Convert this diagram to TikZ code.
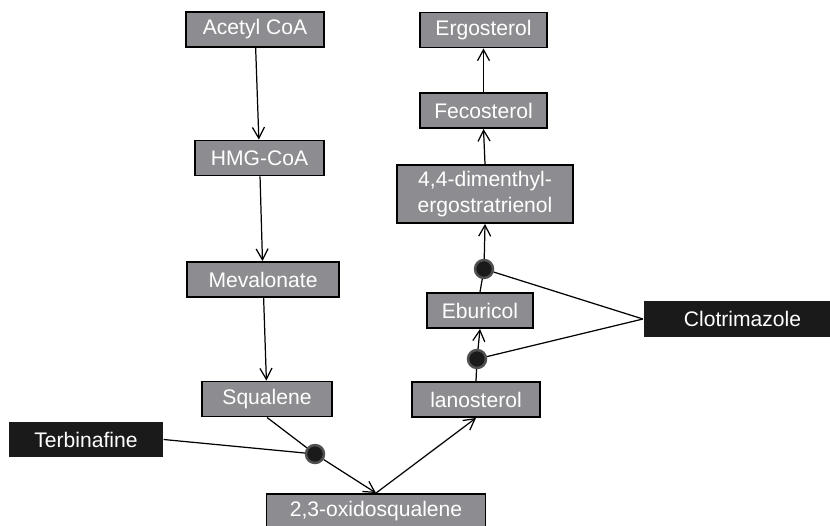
\documentclass[tikz,border=0pt]{standalone}
\usepackage{fontspec}
\setmainfont{Liberation Sans}
\usetikzlibrary{arrows.meta}
\definecolor{boxgray}{RGB}{141,141,145}
\definecolor{drugblack}{RGB}{26,26,26}
\definecolor{dotrim}{RGB}{80,80,80}
\begin{document}
\begin{tikzpicture}[x=0.02cm, y=-0.02cm, line width=0.7pt, >={Straight Barb[length=2.2mm,width=2.4mm]},
  step node/.style={rectangle,draw=black,line width=1.1pt,fill=boxgray,text=white,inner sep=0pt,minimum height=0.7cm},
  drug node/.style={rectangle,fill=drugblack,text=white,inner sep=0pt,minimum height=0.72cm},
  block node/.style={circle,draw=dotrim,line width=1.4pt,fill=drugblack,minimum size=0.36cm,inner sep=0pt}]
\useasboundingbox (0,0) rectangle (830,526);
\begin{scope}[every node/.style={font=\fontsize{12}{14.4}\selectfont}]
\node[step node, minimum width=2.76cm] (aco) at (255,29.5) {Acetyl CoA};
\node[step node, minimum width=2.58cm] (hmg) at (259.5,158) {HMG-CoA};
\node[step node, minimum width=3.04cm] (mev) at (263,279.5) {Mevalonate};
\node[step node, minimum width=2.6cm] (squ) at (267,399) {Squalene};
\node[step node, minimum width=4.38cm] (oxi) at (376,511.5) {2,3-oxidosqualene};
\node[step node, minimum width=2.56cm] (lan) at (476,399.5) {lanosterol};
\node[step node, minimum width=2.12cm] (ebu) at (480,310.5) {Eburicol};
\node[step node, minimum width=3.52cm, minimum height=1.16cm, align=center] (dim) at (485,194) {4,4-dimenthyl-\\ergostratrienol};
\node[step node, minimum width=2.54cm] (fec) at (483.5,110.5) {Fecosterol};
\node[step node, minimum width=2.54cm] (erg) at (483.5,30) {Ergosterol};
\node[drug node, minimum width=3.08cm] (ter) at (86,439.5) {Terbinafine};
\node[drug node, minimum width=3.96cm] (clo) at (742.5,319) {Clotrimazole};
\end{scope}
\node[block node] (d1) at (315,454) {};
\node[block node] (d2) at (477,359) {};
\node[block node] (d3) at (484,269) {};
% main pathway
\draw[->] (aco) -- (hmg);
\draw[->] (hmg) -- (mev);
\draw[->] (mev) -- (squ);
\draw (squ.south) -- (d1);
\draw[->] (d1) -- (oxi.north);
\draw[->] (oxi.north) -- (lan.south);
\draw (lan.north) -- (d2);
\draw[->] (d2) -- (ebu.south);
\draw (ebu.north) -- (d3);
\draw[->] (d3) -- (dim.south);
\draw[->] (dim.north) -- (fec.south);
\draw[->] (fec) -- (erg);
% inhibitors
\draw (ter.east) -- (d1);
\draw (clo.west) -- (d2);
\draw (clo.west) -- (d3);
\end{tikzpicture}
\end{document}
